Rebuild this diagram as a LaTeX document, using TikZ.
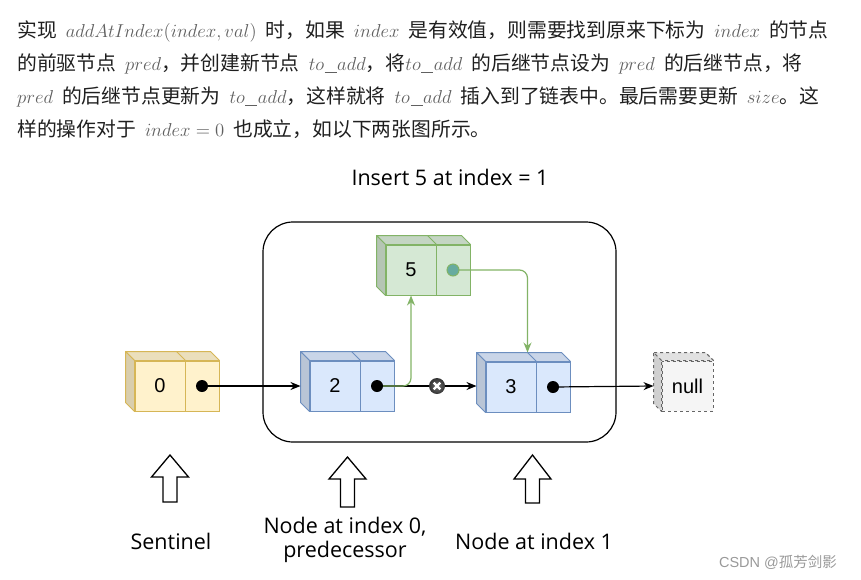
\RequirePackage{fix-cm}
\documentclass[tikz,border=0pt]{standalone}
\usepackage{fontspec}
\setmainfont{Liberation Sans}
\newfontfamily\cjk{Noto Sans CJK SC}
\newfontfamily\comic{Open Sans}
\usetikzlibrary{arrows.meta,calc}
\DeclareFontShape{OML}{cmm}{m}{it}{<->cmmi12}{}
\DeclareFontShape{OT1}{cmr}{m}{n}{<->cmr12}{}
\definecolor{mgray}{HTML}{606060}
\definecolor{yfill}{HTML}{FFF2CC}\definecolor{ystroke}{HTML}{D6B656}
\definecolor{bfill}{HTML}{DAE8FC}\definecolor{bstroke}{HTML}{6C8EBF}
\definecolor{gfill}{HTML}{D5E8D4}\definecolor{gstroke}{HTML}{82B366}
\definecolor{nfill}{HTML}{F5F5F5}\definecolor{nstroke}{HTML}{666666}
\definecolor{tealdot}{HTML}{67AB9F}
\newcommand\mm[1]{{\fontsize{18.7}{22}\selectfont\color{mgray}$#1$}}
\newcommand\uscore{\mathord{\mbox{\kern0.5pt\rule[-2.6pt]{12pt}{0.8pt}\kern0.5pt}}}
\newcommand\widespaces{\spaceskip=9pt\relax}
% faces of a 3D box: #1 first cell, #2 last cell, #3 depth, #4 top colour, #5 left colour, #6 stroke style
\newcommand\boxfaces[6]{%
  \filldraw[fill=#4,#6,line join=round] (#1.north west) -- ++(-#3,-#3) -- ($(#2.north east)+(-#3,-#3)$) -- (#2.north east) -- cycle;
  \filldraw[fill=#5,#6,line join=round] (#1.north west) -- ++(-#3,-#3) -- ($(#1.south west)+(-#3,-#3)$) -- (#1.south west) -- cycle;
  \draw[#6] (#1.north east) -- ++(-#3,-#3);
}
\newcommand\hollowup[4]{% cx, tip, head base, bottom
  \filldraw[fill=white,draw=black,line width=1.3pt,line join=miter]
    (#1,#2) -- (#1+18.5,#3) -- (#1+7,#3) -- (#1+7,#4) -- (#1-7,#4) -- (#1-7,#3) -- (#1-18.5,#3) -- cycle;
}
\begin{document}
\begin{tikzpicture}[x=1pt,y=-1pt,
  para/.style={anchor=base west,inner sep=0pt,font=\cjk\fontsize{19.8}{24}\selectfont,text=black!88},
  cell/.style={rectangle,draw,line width=1pt,minimum height=50pt,inner sep=0pt,font=\fontsize{20}{22}\selectfont},
  cellA/.style={cell,minimum width=50pt},
  cellB/.style={cell,minimum width=34pt},
  dot/.style={circle,fill=black,minimum size=12pt,inner sep=0pt},
  arr/.style={line width=1.2pt,-{Stealth[length=10pt,width=8pt]}},
  garr/.style={line width=1.2pt,draw=gstroke,rounded corners=8pt,-{Stealth[length=10pt,width=8pt]}},
  lbl/.style={font=\comic\fontsize{21.5}{24}\selectfont,align=center,inner sep=0pt},
]
\useasboundingbox (0,0) rectangle (861,579);

% paragraph
\node[para] (l1) at (17,37) {\widespaces 实现 \mm{addAtIndex(index, val)} 时，如果 \mm{index} 是有效值，则需要找到原来下标为 \mm{index} 的节点};
\node[para] (l2) at (17,70) {\widespaces 的前驱节点 \mm{pred}，并创建新节点 \mm{to\uscore add}，将\mm{to\uscore add} 的后继节点设为 \mm{pred} 的后继节点，将};
\node[para] (l3) at (17,103) {\widespaces\mm{pred} 的后继节点更新为 \mm{to\uscore add}，这样就将 \mm{to\uscore add} 插入到了链表中。最后需要更新 \mm{size}。这};
\node[para] (l4) at (17,136) {\widespaces 样的操作对于 \mm{index=0} 也成立，如以下两张图所示。};

% title
\node[lbl] (title) at (450,177) {Insert 5 at index = 1};

% frame
\node[draw,line width=1.2pt,rounded corners=30pt,minimum width=353pt,minimum height=220pt,inner sep=0pt] (frame) at (439.5,332) {};

% sentinel
\node[cellA,fill=yfill,draw=ystroke] (s0v) at (160,386) {0};
\node[cellB,fill=yfill,draw=ystroke] (s0p) at (202,386) {};
\boxfaces{s0v}{s0p}{9}{yfill!92!black}{yfill!85!black}{draw=ystroke,line width=1pt}

% node 2
\node[cellA,fill=bfill,draw=bstroke] (n2v) at (335,386) {2};
\node[cellB,fill=bfill,draw=bstroke] (n2p) at (377,386) {};
\boxfaces{n2v}{n2p}{9}{bfill!92!black}{bfill!85!black}{draw=bstroke,line width=1pt}

% node 3
\node[cellA,fill=bfill,draw=bstroke] (n3v) at (511,387) {3};
\node[cellB,fill=bfill,draw=bstroke] (n3p) at (553,387) {};
\boxfaces{n3v}{n3p}{9}{bfill!92!black}{bfill!85!black}{draw=bstroke,line width=1pt}

% node 5
\node[cellA,fill=gfill,draw=gstroke] (n5v) at (411,270) {5};
\node[cellB,fill=gfill,draw=gstroke] (n5p) at (453,270) {};
\boxfaces{n5v}{n5p}{9}{gfill!92!black}{gfill!85!black}{draw=gstroke,line width=1pt}

% null
\node[cell,minimum width=51pt,fill=nfill,draw=nstroke,dashed] (nl) at (687.5,386) {null};
\boxfaces{nl}{nl}{8}{nfill!92!black}{nfill!85!black}{draw=nstroke,line width=1pt,dashed}

% black connectors
\draw[arr] (s0p.center) -- ($(n2v.west)+(-9,0)$);
\draw[arr] (n2p.center) -- ($(n3v.west)+(-9,-1)$);
\draw[arr] (n3p.center) -- ($(nl.west)+(-8,0)$);

% green connectors
\draw[garr] (n2p.center) -| (n5v.south);
\draw[garr] (n5p.center) -| ($(n3v.north east)+(-9,-9)$);

% dots
\node[dot] (d0) at (s0p.center) {};
\node[dot] (d2) at (n2p.center) {};
\node[dot] (d3) at (n3p.center) {};
\node[circle,fill=tealdot,draw=gstroke,line width=1pt,minimum size=12pt,inner sep=0pt] (d5) at (n5p.center) {};

% removed-link marker
\node[circle,inner sep=0pt,minimum size=16pt,inner color=black!55,outer color=black!80] (xm) at (437,386) {};
\draw[white,line width=2.4pt] ($(xm)+(-3.3,-3.3)$) -- ($(xm)+(3.3,3.3)$);
\draw[white,line width=2.4pt] ($(xm)+(-3.3,3.3)$) -- ($(xm)+(3.3,-3.3)$);

% hollow arrows
\hollowup{170}{455}{477}{502}
\hollowup{347.5}{457}{479}{507}
\hollowup{532.5}{455}{479}{503}

% labels
\node[lbl] (lsent) at (171,541) {Sentinel};
\node[lbl] (lpred) at (345,540) {Node at index 0,\\predecessor};
\node[lbl] (lidx1) at (534,541) {Node at index 1};

% watermark
\node[inner sep=0pt,text=black!40,font=\fontsize{14.5}{16}\selectfont] (wm) at (778,562) {CSDN @{\cjk 孤芳剑影}};
\end{tikzpicture}
\end{document}
